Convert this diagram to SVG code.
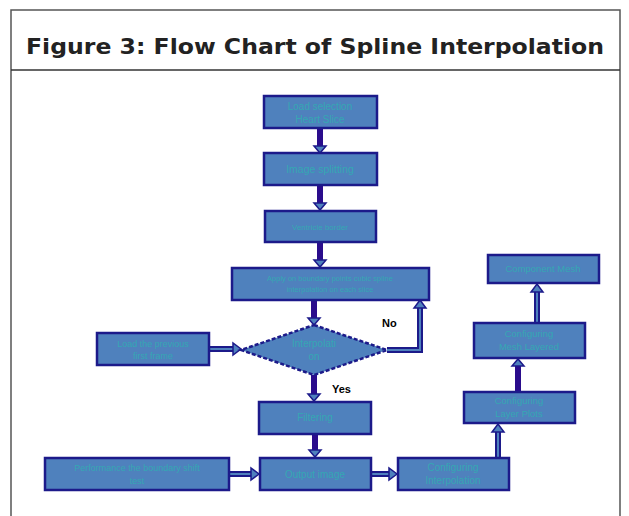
<svg xmlns="http://www.w3.org/2000/svg" width="629" height="516" viewBox="0 0 629 516">
<defs>
<style>
.box{fill:#4f81bd;stroke:#1c1a8a;stroke-width:2.5}
.dia{fill:#4f81bd;stroke:#1c1a8a;stroke-width:2.5;stroke-dasharray:4 2}
.t{font-family:"Liberation Sans",Arial,sans-serif;fill:#35a7b3;text-anchor:middle}
.lbl{font-family:"Liberation Sans",Arial,sans-serif;font-weight:bold;font-size:11px;fill:#000}
.solid{stroke:#2a0c8c;stroke-width:6;fill:none}
.outer{stroke:#1c1a8a;stroke-width:6;fill:none}
.inner{stroke:#4f81bd;stroke-width:2;fill:none}
.head{fill:#4f81bd;stroke:#1c1a8a;stroke-width:1.5}
</style>
</defs>
<rect x="0" y="0" width="629" height="516" fill="#fff"/>
<path d="M11,516 V10 H620 V516" fill="none" stroke="#555" stroke-width="1.5"/>
<line x1="11" y1="70" x2="620" y2="70" stroke="#333" stroke-width="1.5"/>
<text x="315" y="54" text-anchor="middle" font-family="DejaVu Sans,Verdana,sans-serif" font-weight="bold" font-size="22" fill="#222" textLength="578" lengthAdjust="spacingAndGlyphs">Figure 3: Flow Chart of Spline Interpolation</text>

<g id="connectors">
<path class="solid" d="M320,128 V148"/><path class="head" d="M314,146 h12 l-6,7 z"/>
<path class="solid" d="M320,185 V205"/><path class="head" d="M314,203 h12 l-6,7 z"/>
<path class="solid" d="M320,242 V262"/><path class="head" d="M314,260 h12 l-6,7 z"/>
<path class="solid" d="M314,300 V320"/><path class="head" d="M308,318 h12 l-6,7 z"/>
<path class="solid" d="M314,375 V396"/><path class="head" d="M308,394 h12 l-6,7 z"/>
<path class="solid" d="M315,434 V452"/><path class="head" d="M309,450 h12 l-6,7 z"/>
<path class="solid" d="M518,392 V364"/><path class="head" d="M512,366 h12 l-6,-7 z"/>
<path class="outer" d="M387,350 H420 V307"/><path class="inner" d="M387,350 H420 V307"/><path class="head" d="M414,308 h12 l-6,-8 z"/>
<path class="outer" d="M209,349 H234"/><path class="inner" d="M209,349 H234"/><path class="head" d="M233,343 v12 l8,-6 z"/>
<path class="outer" d="M229,474 H252"/><path class="inner" d="M229,474 H252"/><path class="head" d="M251,468 v12 l8,-6 z"/>
<path class="outer" d="M371,474 H390"/><path class="inner" d="M371,474 H390"/><path class="head" d="M389,468 v12 l8,-6 z"/>
<path class="outer" d="M498,458 V431"/><path class="inner" d="M498,458 V431"/><path class="head" d="M492,432 h12 l-6,-8 z"/>
<path class="outer" d="M537,323 V291"/><path class="inner" d="M537,323 V291"/><path class="head" d="M531,292 h12 l-6,-8 z"/>
</g>

<g id="n1"><rect class="box" x="264" y="96" width="113" height="32"/><text class="t" font-size="10"><tspan x="320" y="110">Load selection</tspan><tspan x="320" y="123">Heart Slice</tspan></text></g>
<g id="n2"><rect class="box" x="264" y="153" width="113" height="32"/><text class="t" x="320" y="173" font-size="10.5">Image splitting</text></g>
<g id="n3"><rect class="box" x="265" y="211" width="111" height="31"/><text class="t" x="320" y="230" font-size="8">Ventricle border</text></g>
<g id="n4"><rect class="box" x="232" y="268" width="197" height="32"/><text class="t" font-size="7.5"><tspan x="330" y="281">Apply on boundary points cubic spline</tspan><tspan x="330" y="292">interpolation on each slice</tspan></text></g>
<g id="n5"><path class="dia" d="M314,325 L387,350 L314,375 L241,350 Z"/><text class="t" font-size="10"><tspan x="314" y="347">Interpolati</tspan><tspan x="314" y="360">on</tspan></text></g>
<g id="n6"><rect class="box" x="97" y="333" width="112" height="32"/><text class="t" font-size="9"><tspan x="153" y="347">Load the previous</tspan><tspan x="153" y="359">first frame</tspan></text></g>
<g id="n7"><rect class="box" x="259" y="402" width="112" height="32"/><text class="t" x="315" y="421" font-size="10">Filtering</text></g>
<g id="n8"><rect class="box" x="45" y="458" width="184" height="32"/><text class="t" font-size="9"><tspan x="137" y="471">Performance the boundary shift</tspan><tspan x="137" y="484">test</tspan></text></g>
<g id="n9"><rect class="box" x="260" y="458" width="111" height="32"/><text class="t" x="315" y="478" font-size="10">Output image</text></g>
<g id="n10"><rect class="box" x="398" y="458" width="111" height="32"/><text class="t" font-size="10"><tspan x="453" y="471">Configuring</tspan><tspan x="453" y="484">Interpolation</tspan></text></g>
<g id="n11"><rect class="box" x="464" y="392" width="111" height="31"/><text class="t" font-size="9.5"><tspan x="519" y="404">Configuring</tspan><tspan x="519" y="417">Layer Plots</tspan></text></g>
<g id="n12"><rect class="box" x="474" y="323" width="111" height="35"/><text class="t" font-size="9.5"><tspan x="529" y="337">Configuring</tspan><tspan x="529" y="350">Mesh Layered</tspan></text></g>
<g id="n13"><rect class="box" x="488" y="255" width="111" height="28"/><text class="t" x="543" y="272" font-size="9.5">Component Mesh</text></g>

<text class="lbl" x="382" y="327">No</text>
<text class="lbl" x="332" y="393">Yes</text>
</svg>
